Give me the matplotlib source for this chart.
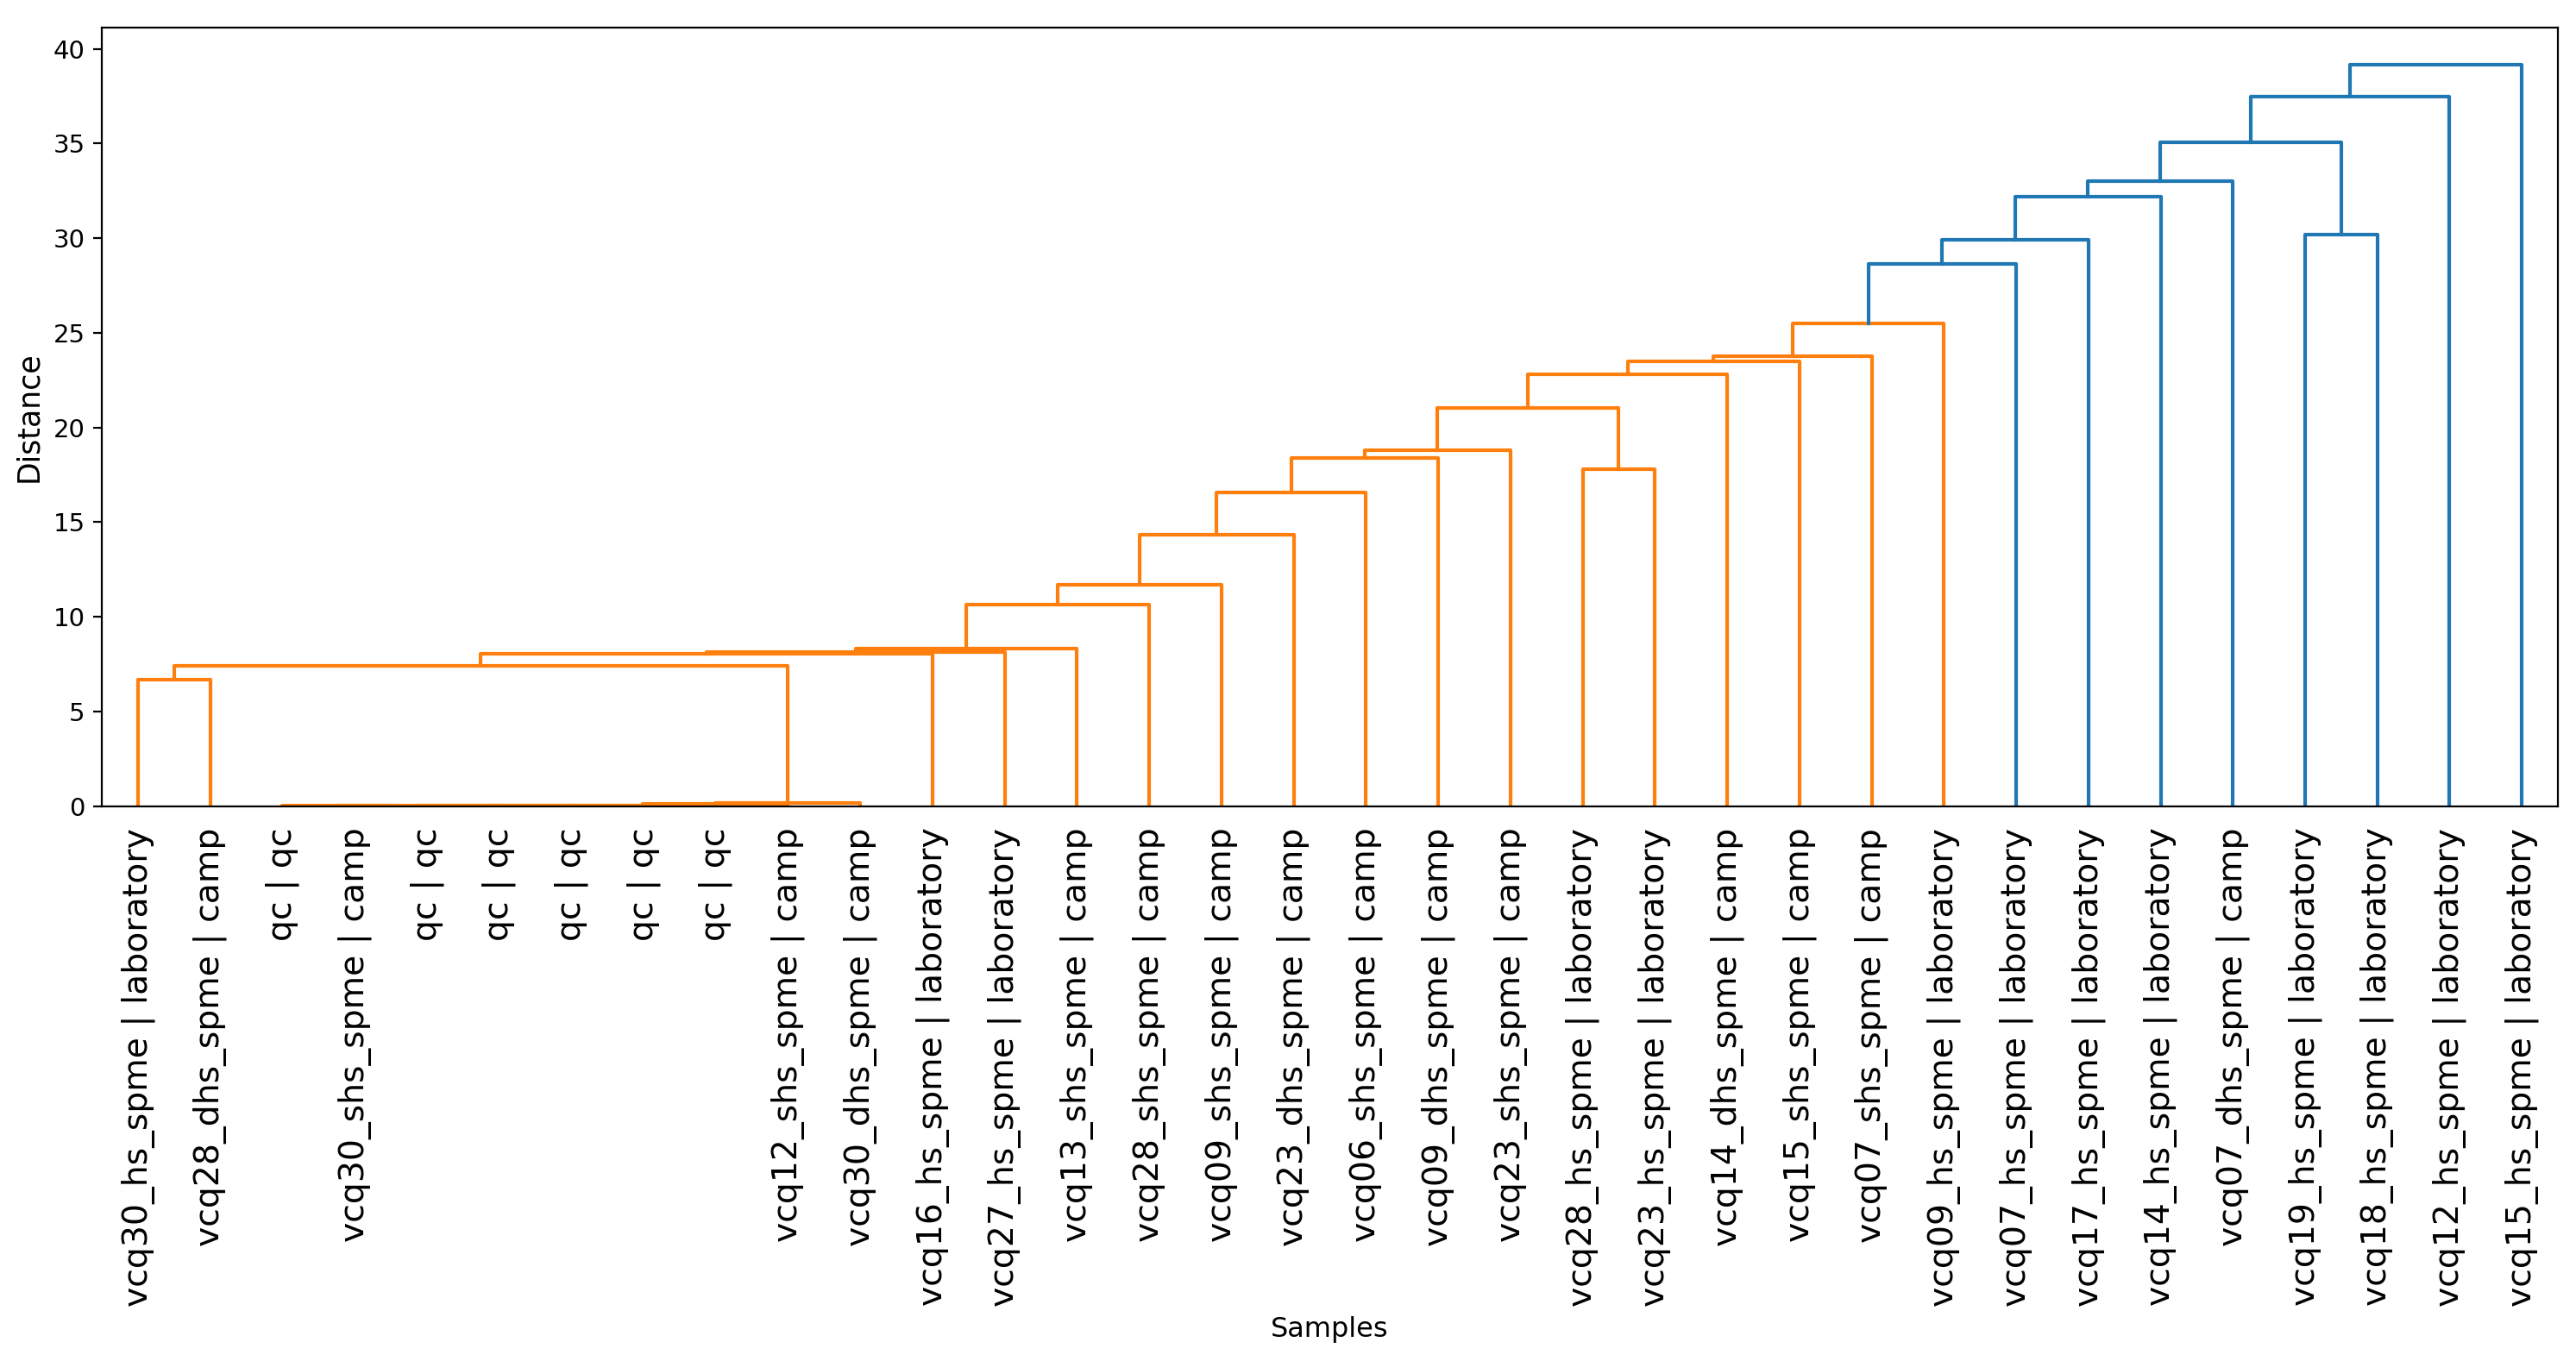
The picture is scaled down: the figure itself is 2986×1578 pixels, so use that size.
import numpy as np
from matplotlib import pyplot as plt

# leaf order as it appears along the x axis
leafLabels = [
    'vcq30_hs_spme | laboratory', 'vcq28_dhs_spme | camp', 'qc | qc',
    'vcq30_shs_spme | camp', 'qc | qc', 'qc | qc', 'qc | qc', 'qc | qc',
    'qc | qc', 'vcq12_shs_spme | camp', 'vcq30_dhs_spme | camp',
    'vcq16_hs_spme | laboratory', 'vcq27_hs_spme | laboratory',
    'vcq13_shs_spme | camp', 'vcq28_shs_spme | camp', 'vcq09_shs_spme | camp',
    'vcq23_dhs_spme | camp', 'vcq06_shs_spme | camp', 'vcq09_dhs_spme | camp',
    'vcq23_shs_spme | camp', 'vcq28_hs_spme | laboratory',
    'vcq23_hs_spme | laboratory', 'vcq14_dhs_spme | camp',
    'vcq15_shs_spme | camp', 'vcq07_shs_spme | camp',
    'vcq09_hs_spme | laboratory', 'vcq07_hs_spme | laboratory',
    'vcq17_hs_spme | laboratory', 'vcq14_hs_spme | laboratory',
    'vcq07_dhs_spme | camp', 'vcq19_hs_spme | laboratory',
    'vcq18_hs_spme | laboratory', 'vcq12_hs_spme | laboratory',
    'vcq15_hs_spme | laboratory',
]

# merges: children < 34 are leaves, >= 34 are earlier merges (34 + row)
mergeLeft = [3, 2, 35, 36, 37, 38, 39, 40, 0, 42, 43, 44, 45, 46, 47, 48, 49,
             50, 51, 20, 52, 54, 55, 56, 57, 58, 59, 60, 61, 30, 62, 64, 65]
mergeRight = [4, 34, 5, 6, 7, 8, 9, 10, 1, 41, 11, 12, 13, 14, 15, 16, 17,
              18, 19, 21, 53, 22, 23, 24, 25, 26, 27, 28, 29, 31, 63, 32, 33]
mergeHeight = [0.0, 0.01, 0.01, 0.02, 0.02, 0.03, 0.12, 0.15, 6.7, 7.4,
               8.05, 8.12, 8.3, 10.65, 11.7, 14.35, 16.55, 18.4, 18.8, 17.8,
               21.05, 22.8, 23.5, 23.75, 25.5, 28.65, 29.9, 32.2, 33.0, 30.2,
               35.05, 37.5, 39.15]


def build_links(nLeaves, left, right, height):
    """Turns the merge table into the U shaped link coordinates"""
    xPos = {i: 10.0 * i + 5 for i in range(nLeaves)}
    yPos = {i: 0.0 for i in range(nLeaves)}
    icoord, dcoord = [], []
    for k, (a, b, h) in enumerate(zip(left, right, height)):
        icoord.append([xPos[a], xPos[a], xPos[b], xPos[b]])
        dcoord.append([yPos[a], h, h, yPos[b]])
        xPos[nLeaves + k] = (xPos[a] + xPos[b]) / 2.0
        yPos[nLeaves + k] = h
    return icoord, dcoord


nLeaves = len(leafLabels)
icoord, dcoord = build_links(nLeaves, mergeLeft, mergeRight, mergeHeight)
threshold = 0.7 * max(mergeHeight)

fig = plt.figure(figsize=(14.93, 7.89), dpi=200)
ax = fig.add_subplot(111)
fig.subplots_adjust(left=0.0395, right=0.993, top=0.9795, bottom=0.4077)

for xs, ys, h in zip(icoord, dcoord, mergeHeight):
    color = '#ff7f0e' if h < threshold else '#1f77b4'
    ax.plot(xs, ys, color=color, lw=1.5)

ax.set_xlim(0, 10 * nLeaves)
ax.set_ylim(0, 1.05 * max(mergeHeight))
ax.set_xticks(10 * np.arange(nLeaves) + 5)
ax.set_xticklabels(leafLabels, rotation=90, fontsize=14.2)
for line in ax.get_xticklines():
    line.set_visible(False)
ax.tick_params(axis='x', pad=5.5)
ax.tick_params(axis='y', labelsize=10.5)
ax.set_xlabel('Samples', fontsize=11.5)
ax.set_ylabel('Distance', fontsize=12.5)

fig.savefig('out.png', dpi=200)
